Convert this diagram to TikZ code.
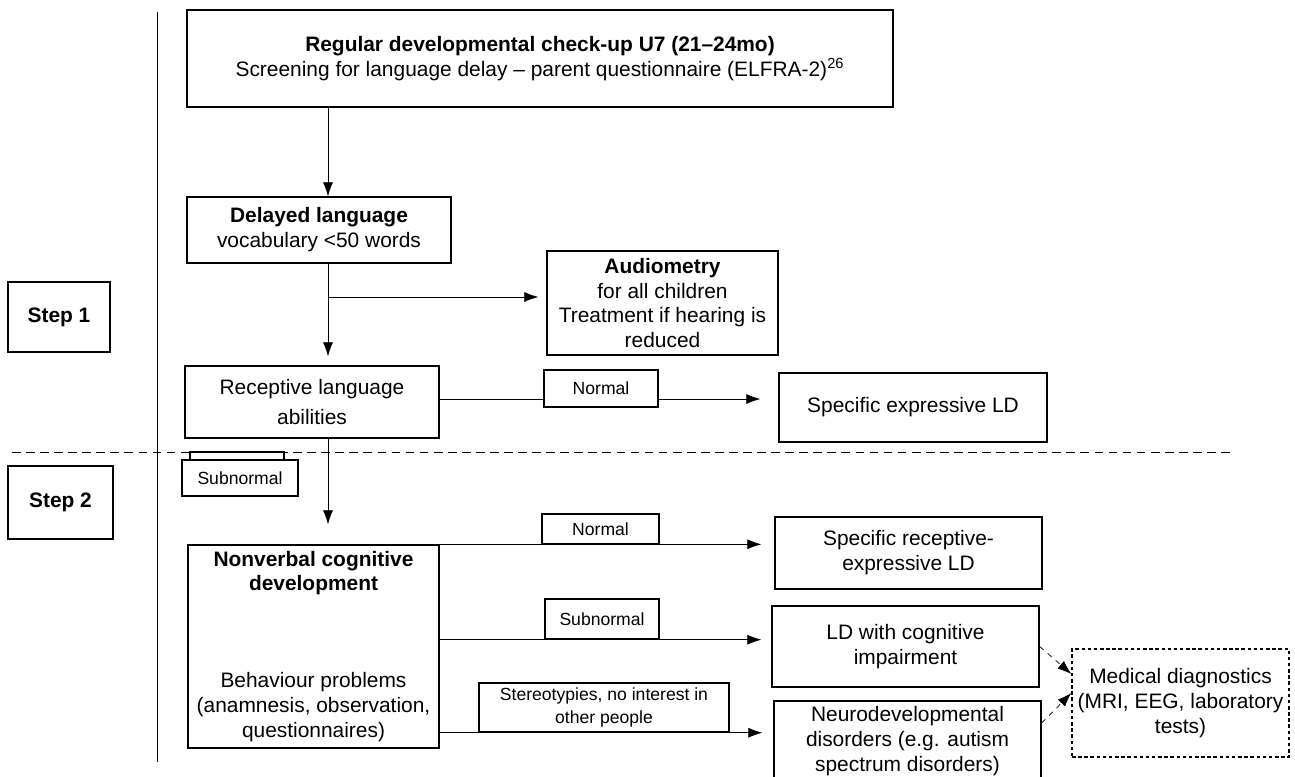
\documentclass[tikz,border=0pt]{standalone}
\usepackage{fontspec}
\setmainfont{Liberation Sans}
\usetikzlibrary{arrows.meta,positioning,backgrounds}

\begin{document}
\begin{tikzpicture}[>={Latex[length=2.8mm,width=2mm]}, thick]

\tikzset{stage/.style={
  rectangle,
  inner sep=0pt,
  align=center,
  draw=black, fill=white,
  font=\fontsize{11.9}{14.2}\selectfont
  }}
\tikzset{tag/.style={
  rectangle,
  inner sep=0pt,
  align=center,
  draw=black, fill=white,
  font=\fontsize{10}{13}\selectfont
  }}
\tikzset{stepbox/.style={stage, font=\fontsize{11.9}{14.2}\selectfont\bfseries}}

\useasboundingbox (0,0) rectangle (25.9,-15.52);

\node[stage, minimum width=14.12cm, minimum height=1.94cm] (checkup) at (10.80,-1.17) {\textbf{Regular developmental check-up U7 (21--24mo)}\\Screening for language delay -- parent questionnaire (ELFRA-2)\textsuperscript{26}};
\node[stage, minimum width=5.28cm, minimum height=1.32cm] (delayed) at (6.38,-4.60) {\textbf{Delayed language}\\vocabulary <50 words};
\node[stage, minimum width=4.62cm, minimum height=2.08cm] (audio) at (13.25,-6.06) {\textbf{Audiometry}\\for all children\\Treatment if hearing is\\reduced};
\node[stage, minimum width=5.08cm, minimum height=1.44cm] (receptive) at (6.24,-8.04) {Receptive language\\[0.12cm]abilities};
\node[stage, minimum width=5.36cm, minimum height=1.38cm] (expressive) at (18.26,-8.15) {Specific expressive LD};

\node[stage, minimum width=5.02cm, minimum height=4.06cm] (nonverbal) at (6.27,-12.93) {\textbf{Nonverbal cognitive}\\\textbf{development}\\[1.44cm]Behaviour problems\\(anamnesis, observation,\\questionnaires)};
\node[stage, minimum width=5.34cm, minimum height=1.44cm] (recexp) at (18.17,-11.06) {Specific receptive-\\expressive LD};
\node[stage, minimum width=5.34cm, minimum height=1.62cm] (cognitive) at (18.11,-12.93) {LD with cognitive\\impairment};
\node[stage, minimum width=5.34cm, minimum height=1.60cm] (neuro) at (18.15,-14.82) {Neurodevelopmental\\disorders (e.g. autism\\spectrum disorders)};
\node[stage, dash pattern=on 2pt off 1.5pt, minimum width=4.34cm, minimum height=2.16cm] (medical) at (23.61,-14.06) {Medical diagnostics\\(MRI, EEG, laboratory\\tests)};

\node[stepbox, minimum width=2.04cm, minimum height=1.40cm] (step1) at (1.18,-6.34) {Step 1};
\node[stepbox, minimum width=2.10cm, minimum height=1.46cm] (step2) at (1.21,-10.05) {Step 2};

% labels on the branches
\node[tag, minimum width=2.28cm, minimum height=0.74cm] (normalA) at (12.02,-7.77) {Normal};
\node[tag, minimum width=2.32cm, minimum height=0.72cm] (subnormalA) at (4.80,-9.56) {Subnormal};
\draw[fill=white] (3.80,-9.04) rectangle (5.68,-9.20);
\node[tag, minimum width=2.34cm, minimum height=0.60cm] (normalB) at (12.01,-10.58) {Normal};
\node[tag, minimum width=2.28cm, minimum height=0.80cm] (subnormalB) at (12.04,-12.38) {Subnormal};
\node[tag, minimum width=5.0cm, minimum height=0.98cm] (stereo) at (12.08,-14.15) {Stereotypies, no interest in\\other people};

\coordinate (trunk) at (6.56,0);
\coordinate (branch) at (6.56,-5.94);

\begin{scope}[on background layer]
\draw (3.14,-0.24) -- (3.14,-15.24);
\draw[dash pattern=on 5pt off 3pt] (0.24,-9.04) -- (24.66,-9.04);
\draw[->] (checkup.south -| trunk) -- (delayed.north -| trunk);
\draw[->, shorten >=0.18cm] (delayed.south -| trunk) -- (receptive.north -| trunk);
\draw[->, shorten >=0.16cm] (branch) -- (branch -| audio.west);
\draw[->, shorten >=0.36cm] ([yshift=0.06cm]receptive.east) -- ([yshift=0.06cm]receptive.east -| expressive.west);
\draw[->, shorten >=0.4cm] (receptive.south -| trunk) -- (nonverbal.north -| trunk);
\draw[->, shorten >=0.26cm] (nonverbal.north east) -- (nonverbal.north east -| recexp.west);
\draw[->, shorten >=0.2cm] (nonverbal.east |- subnormalB.south) -- (cognitive.west |- subnormalB.south);
\draw[->, shorten >=0.22cm] (nonverbal.east |- stereo.south) -- (neuro.west |- stereo.south);
\draw[->, dashed] (cognitive.east) -- ([yshift=0.58cm]medical.west);
\draw[->, dashed] ([yshift=0.36cm]neuro.east) -- ([yshift=0.2cm]medical.west);
\end{scope}
\end{tikzpicture}
\end{document}
